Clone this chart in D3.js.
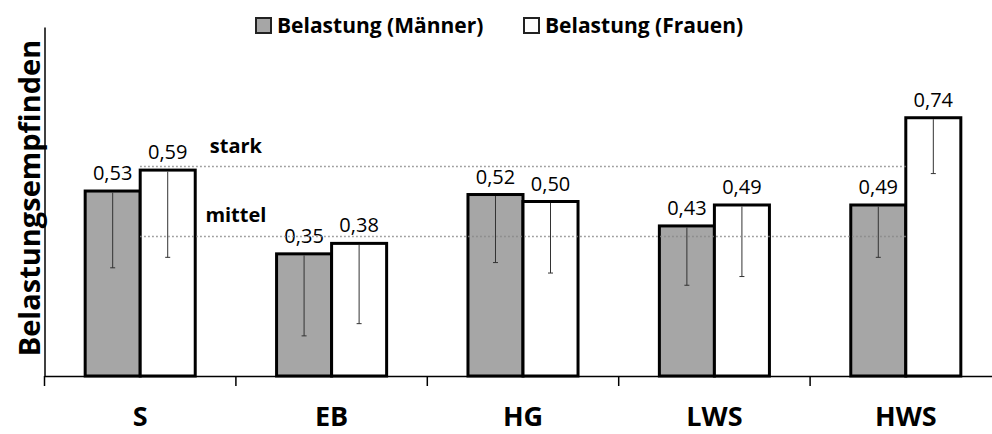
<!DOCTYPE html>
<html>
<head>
<meta charset="utf-8">
<script src="https://cdn.jsdelivr.net/npm/d3@7"></script>
<style>
  body { margin: 0; background: #fff; }
  svg { display: block; font-family: "Open Sans", sans-serif; }
</style>
</head>
<body>
<svg id="chart" width="992" height="434"></svg>
<script>
// data
var categories = ["S", "EB", "HG", "LWS", "HWS"];
var seriesNames = ["Belastung (Männer)", "Belastung (Frauen)"];
var valuesMen = [0.53, 0.35, 0.52, 0.43, 0.49];
var valuesWomen = [0.59, 0.38, 0.50, 0.49, 0.74];
var errMen = [0.22, 0.235, 0.195, 0.17, 0.15];
var errWomen = [0.25, 0.23, 0.205, 0.205, 0.16];
var refLevels = [0.6, 0.4];
var refLabels = ["stark", "mittel"];

var fills = ["#a6a6a6", "#ffffff"];

var svg = d3.select("#chart");

var x0 = d3.scaleBand()
    .domain(categories)
    .range([44.5, 1001.5])
    .paddingInner(0.425)
    .paddingOuter(0.2125);

var x1 = d3.scaleBand()
    .domain([0, 1])
    .range([0, x0.bandwidth()]);

var y = d3.scaleLinear()
    .domain([0, 1])
    .range([376, 27]);

var rows = categories.map(function(c, i) {
    return {
        cat: c,
        bars: [
            {s: 0, v: valuesMen[i], e: errMen[i]},
            {s: 1, v: valuesWomen[i], e: errWomen[i]}
        ]
    };
});

/**
 * bars
 */
var group = svg.selectAll(".grp")
    .data(rows)
    .enter()
    .append("g")
    .attr("class", "grp")
    .attr("transform", function(d) { return "translate(" + x0(d.cat) + ",0)"; });

group.selectAll("rect")
    .data(function(d) { return d.bars; })
    .enter()
    .append("rect")
    .attr("x", function(d) { return x1(d.s); })
    .attr("y", function(d) { return y(d.v); })
    .attr("width", x1.bandwidth())
    .attr("height", function(d) { return y(0) - y(d.v); })
    .attr("fill", function(d) { return fills[d.s]; })
    .attr("stroke", "#000")
    .attr("stroke-width", 3);

// error bars, minus side only
var eb = group.selectAll(".err")
    .data(function(d) { return d.bars; })
    .enter()
    .append("g")
    .attr("class", "err")
    .attr("stroke", "#333")
    .attr("stroke-width", 1);

eb.append("line")
    .attr("x1", function(d) { return x1(d.s) + x1.bandwidth() / 2; })
    .attr("x2", function(d) { return x1(d.s) + x1.bandwidth() / 2; })
    .attr("y1", function(d) { return y(d.v) + 1.5; })
    .attr("y2", function(d) { return y(d.v - d.e); });

eb.append("line")
    .attr("x1", function(d) { return x1(d.s) + x1.bandwidth() / 2 - 2.5; })
    .attr("x2", function(d) { return x1(d.s) + x1.bandwidth() / 2 + 2.5; })
    .attr("y1", function(d) { return y(d.v - d.e); })
    .attr("y2", function(d) { return y(d.v - d.e); });

// value labels
group.selectAll(".val")
    .data(function(d) { return d.bars; })
    .enter()
    .append("text")
    .attr("class", "val")
    .attr("x", function(d) { return x1(d.s) + x1.bandwidth() / 2; })
    .attr("y", function(d) { return y(d.v) - 11; })
    .attr("text-anchor", "middle")
    .attr("font-size", 20)
    .attr("fill", "#000")
    .text(function(d) { return d3.format(".2f")(d.v).replace(".", ","); });

/**
 * reference lines
 */
var xFirst = x0(categories[0]) + x0.bandwidth() / 2;
var xLast = x0(categories[categories.length - 1]) + x0.bandwidth() / 2;

svg.selectAll(".ref")
    .data(refLevels)
    .enter()
    .append("line")
    .attr("class", "ref")
    .attr("x1", xFirst)
    .attr("x2", xLast)
    .attr("y1", function(d) { return y(d); })
    .attr("y2", function(d) { return y(d); })
    .attr("stroke", "#888")
    .attr("stroke-width", 1.5)
    .attr("stroke-dasharray", "1.5,2.5");

var labelX = x0.range()[0] + x0.step();
svg.selectAll(".reflab")
    .data(refLevels)
    .enter()
    .append("text")
    .attr("class", "reflab")
    .attr("x", labelX)
    .attr("y", function(d) { return y(d) - 14; })
    .attr("text-anchor", "middle")
    .attr("font-size", 20)
    .attr("font-weight", "bold")
    .text(function(d, i) { return refLabels[i]; });

/**
 * axes
 */
var xAxis = d3.axisBottom(x0)
    .tickSizeInner(0)
    .tickSizeOuter(0)
    .tickPadding(31);

var gx = svg.append("g")
    .attr("transform", "translate(0," + y(0) + ")")
    .call(xAxis);
gx.select(".domain").attr("stroke", "#000").attr("stroke-width", 1.5);
gx.selectAll("text")
    .attr("font-family", "Open Sans")
    .attr("font-size", 27)
    .attr("font-weight", "bold")
    .attr("fill", "#000");

// category boundary ticks
var bounds = d3.range(categories.length + 1).map(function(i) { return x0.range()[0] + i * x0.step(); });
gx.selectAll(".bnd")
    .data(bounds)
    .enter()
    .append("line")
    .attr("class", "bnd")
    .attr("x1", function(d) { return d; })
    .attr("x2", function(d) { return d; })
    .attr("y1", 0)
    .attr("y2", 10)
    .attr("stroke", "#000")
    .attr("stroke-width", 1.5);

var gy = svg.append("g")
    .attr("transform", "translate(44.5,0)")
    .call(d3.axisLeft(y).tickValues([]).tickSizeOuter(0));
gy.select(".domain").attr("stroke", "#000").attr("stroke-width", 1.5);

svg.append("text")
    .attr("transform", "translate(40,198) rotate(-90)")
    .attr("text-anchor", "middle")
    .attr("font-size", 29)
    .attr("font-weight", "bold")
    .text("Belastungsempfinden");

/**
 * legend
 */
var legendX = [255, 523];
var leg = svg.selectAll(".leg")
    .data(seriesNames)
    .enter()
    .append("g")
    .attr("class", "leg")
    .attr("transform", function(d, i) { return "translate(" + legendX[i] + ",17)"; });

leg.append("rect")
    .attr("x", 1)
    .attr("y", 1)
    .attr("width", 15)
    .attr("height", 15)
    .attr("fill", function(d, i) { return fills[i]; })
    .attr("stroke", "#222")
    .attr("stroke-width", 2);

leg.append("text")
    .attr("x", 22)
    .attr("y", 16)
    .attr("font-size", 21)
    .attr("font-weight", "bold")
    .text(function(d) { return d; });
</script>
</body>
</html>
